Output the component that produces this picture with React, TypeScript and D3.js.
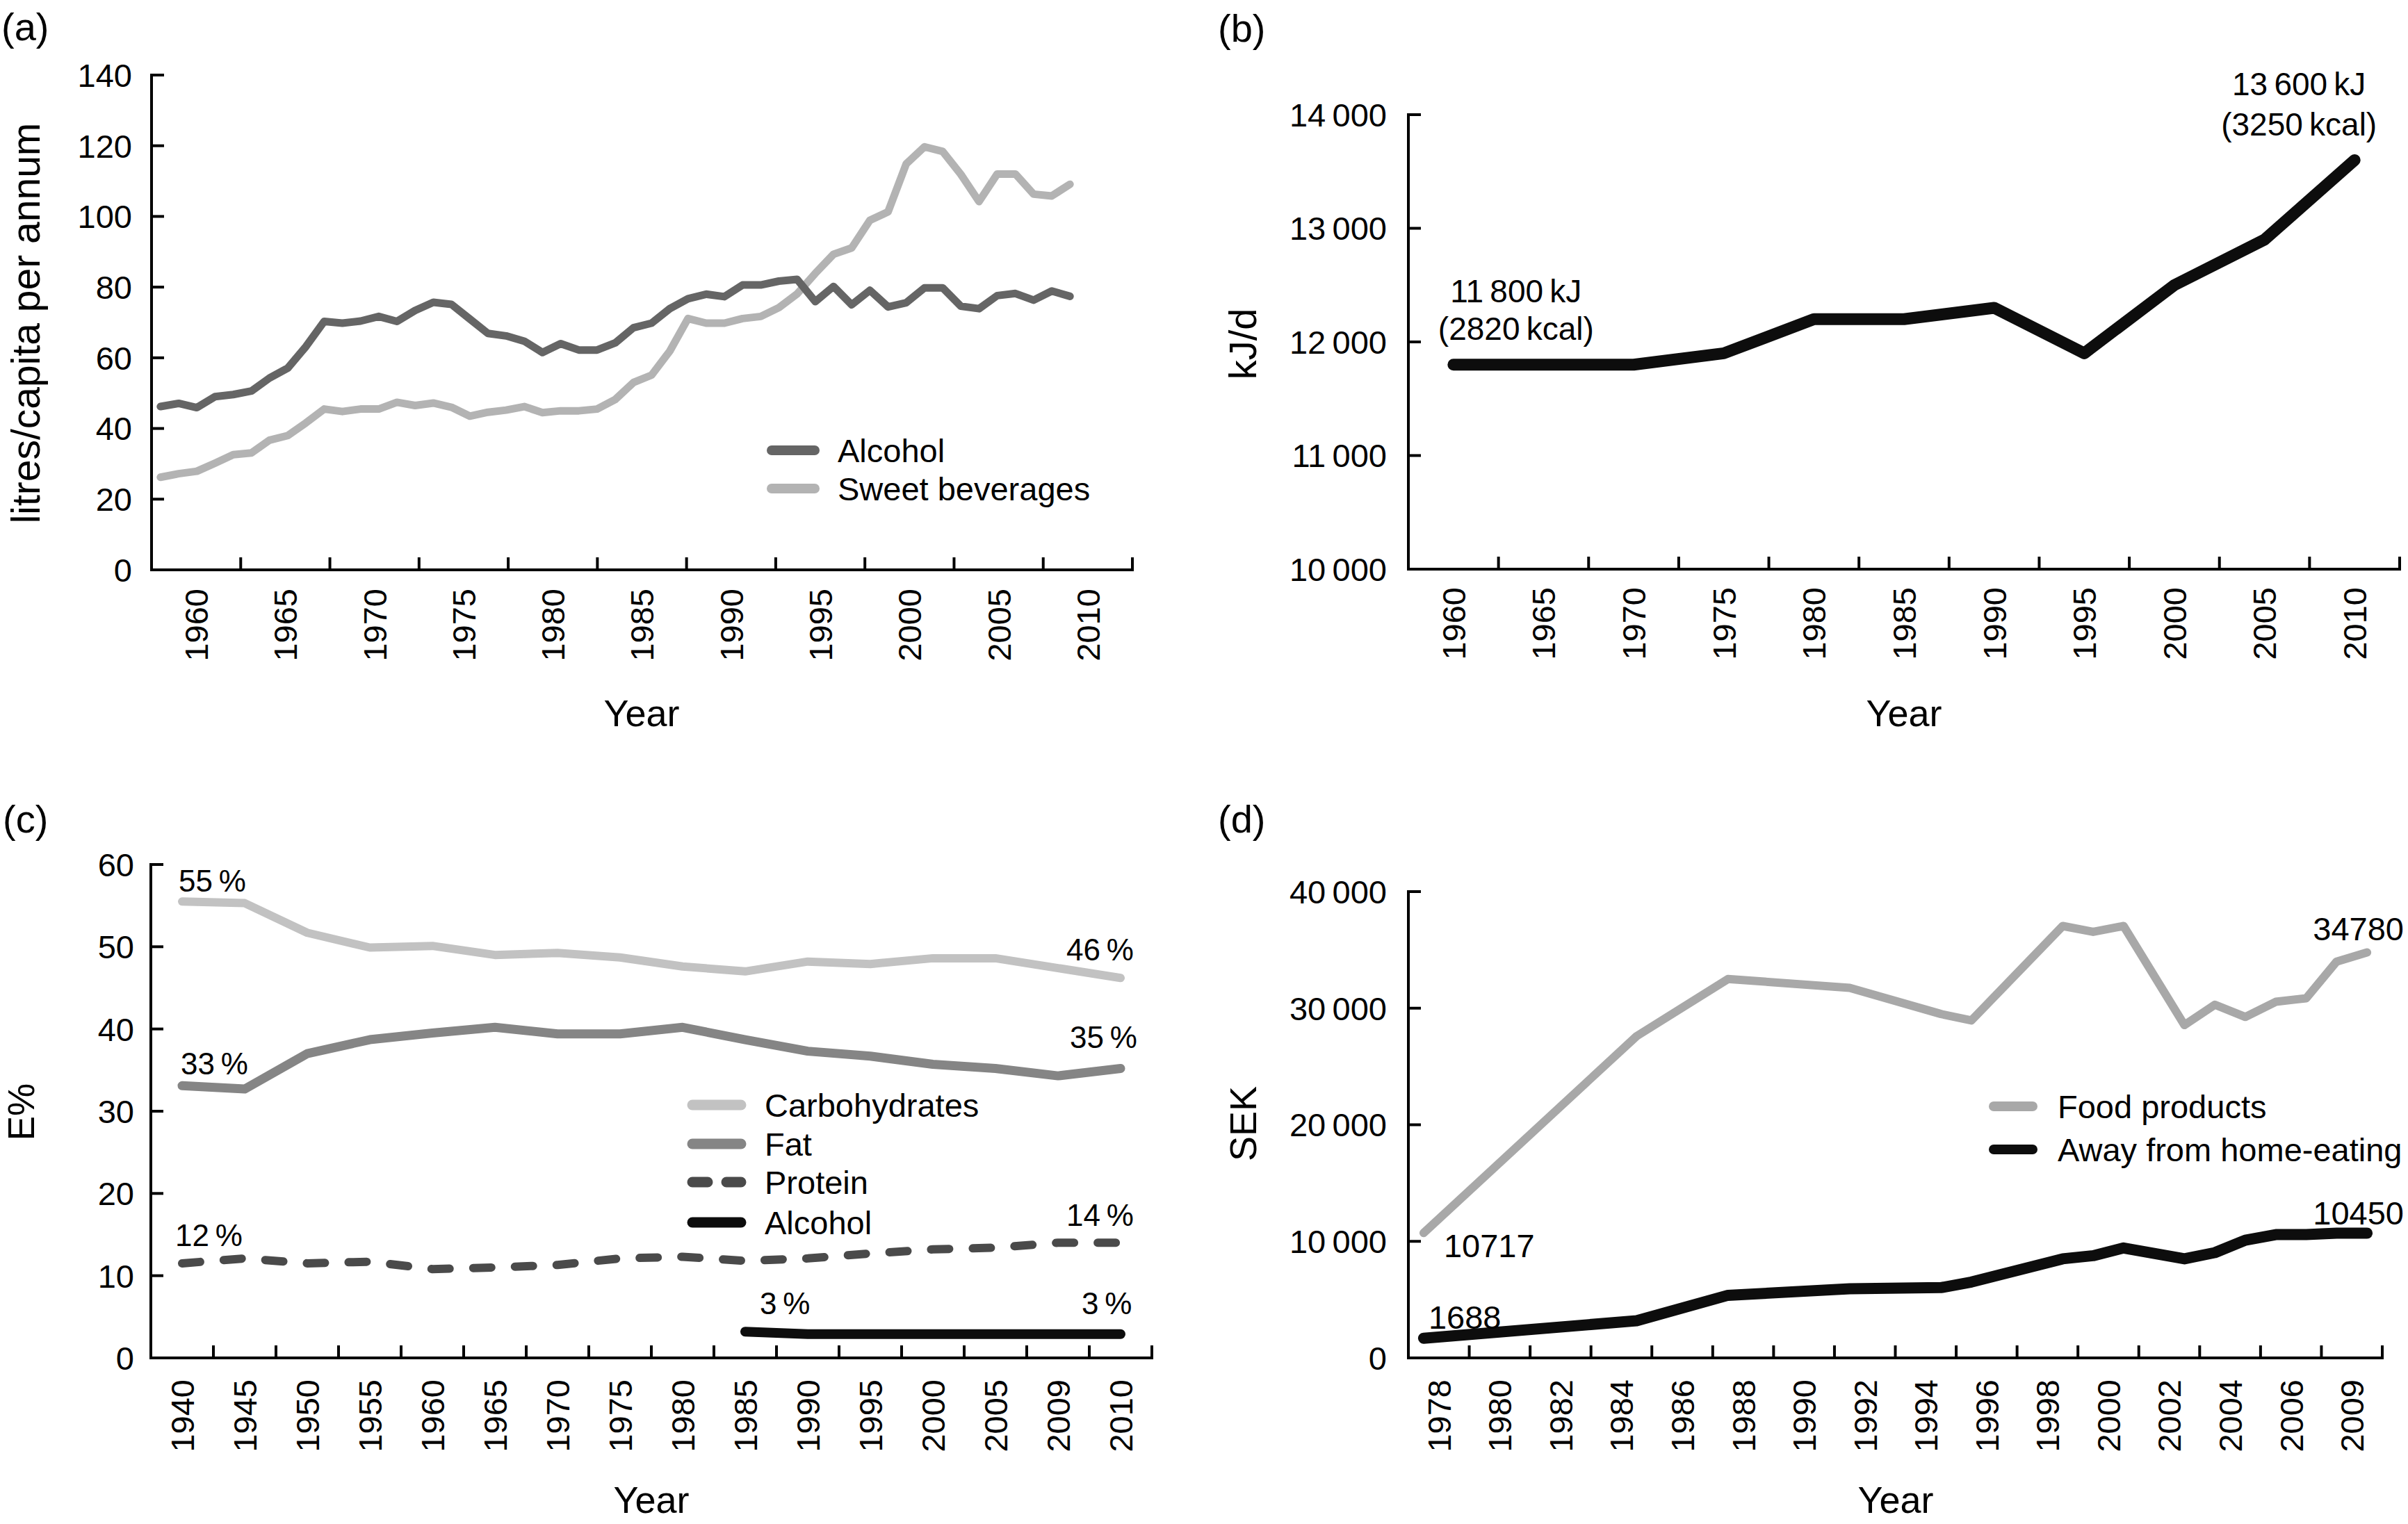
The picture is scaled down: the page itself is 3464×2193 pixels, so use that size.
import React from 'react';
import * as d3 from 'd3';

const FONT = "'Liberation Sans', Arial, Helvetica, sans-serif";

// ---------- Panel (a) ----------
const aTickLabels = ['1960', '1965', '1970', '1975', '1980', '1985', '1990', '1995', '2000', '2005', '2010'];
const aYTicks = [0, 20, 40, 60, 80, 100, 120, 140];
const aYears = [1958, 1959, 1960, 1961, 1962, 1963, 1964, 1965, 1966, 1967, 1968, 1969, 1970, 1971, 1972, 1973, 1974,
  1975, 1976, 1977, 1978, 1979, 1980, 1981, 1982, 1983, 1984, 1985, 1986, 1987, 1988, 1989, 1990, 1991, 1992, 1993,
  1994, 1995, 1996, 1997, 1998, 1999, 2000, 2001, 2002, 2003, 2004, 2005, 2006, 2007, 2008];
const aAlcohol = [46.2, 47.1, 45.9, 49.0, 49.6, 50.6, 54.3, 57.1, 63.2, 70.3, 69.8, 70.4, 71.7, 70.3, 73.4, 75.7, 75.1,
  71.0, 66.9, 66.2, 64.7, 61.5, 64.0, 62.2, 62.2, 64.2, 68.5, 69.8, 73.9, 76.7, 78.0, 77.3, 80.6, 80.6, 81.7, 82.2,
  75.9, 80.2, 75.0, 79.1, 74.4, 75.6, 79.8, 79.8, 74.6, 73.9, 77.6, 78.2, 76.3, 78.9, 77.4];
const aSweet = [26.2, 27.2, 27.9, 30.2, 32.6, 33.1, 36.7, 38.0, 41.6, 45.5, 44.8, 45.5, 45.5, 47.4, 46.5, 47.2, 46.0,
  43.5, 44.6, 45.2, 46.2, 44.5, 45.0, 45.0, 45.5, 48.2, 53.0, 55.1, 61.9, 71.1, 69.8, 69.8, 71.1, 71.7, 74.2, 78.1,
  83.9, 89.3, 91.1, 98.9, 101.3, 114.9, 119.7, 118.4, 111.9, 104.2, 112.0, 112.0, 106.3, 105.8, 109.1];

// ---------- Panel (b) ----------
const bYears = ['1960', '1965', '1970', '1975', '1980', '1985', '1990', '1995', '2000', '2005', '2010'];
const bEnergy = [11800, 11800, 11800, 11900, 12200, 12200, 12300, 11900, 12500, 12900, 13600];
const bYTicks = [10000, 11000, 12000, 13000, 14000];

// ---------- Panel (c) ----------
const cCats = ['1940', '1945', '1950', '1955', '1960', '1965', '1970', '1975', '1980', '1985', '1990', '1995', '2000', '2005', '2009', '2010'];
const cCarbs = [55.5, 55.3, 51.7, 49.9, 50.1, 49.0, 49.25, 48.7, 47.6, 47.0, 48.2, 47.9, 48.6, 48.6, 47.4, 46.2];
const cFat = [33.1, 32.7, 37.0, 38.7, 39.5, 40.2, 39.4, 39.4, 40.2, 38.7, 37.3, 36.7, 35.7, 35.2, 34.3, 35.2];
const cProtein = [11.5, 12.1, 11.5, 11.7, 10.8, 11.0, 11.3, 12.1, 12.3, 11.8, 12.1, 12.7, 13.2, 13.4, 14.0, 14.0];
const cAlcCats = ['1985', '1990', '1995', '2000', '2005', '2009', '2010'];
const cAlcohol = [3.2, 2.9, 2.9, 2.9, 2.9, 2.9, 2.9];
const cYTicks = [0, 10, 20, 30, 40, 50, 60];

// ---------- Panel (d) ----------
const dTickLabels = ['1978', '1980', '1982', '1984', '1986', '1988', '1990', '1992', '1994', '1996', '1998', '2000', '2002', '2004', '2006', '2009'];
const dYears = [1978, 1985, 1988, 1992, 1995, 1996, 1999, 2000, 2001, 2003, 2004, 2005, 2006, 2007, 2008, 2009];
const dFood = [10717, 27600, 32500, 31750, 29500, 28950, 37050, 36550, 37050, 28550, 30300, 29250, 30550, 30850, 34000, 34780];
const dAway = [1688, 3190, 5370, 5930, 6030, 6510, 8500, 8770, 9430, 8500, 9030, 10100, 10580, 10580, 10700, 10700];
const dYTicks = [0, 10000, 20000, 30000, 40000];

const thin = '\u2009';
const fmtThousands = (v: number) => (v >= 10000 ? `${Math.floor(v / 1000)}${thin}${String(v % 1000).padStart(3, '0')}` : String(v));

const AX = { stroke: '#000', strokeWidth: 4, strokeLinecap: 'square' as const };

function YAxis({ x, scale, ticks, fmt, gap = 27, fontSize = 47 }: any) {
  return (
    <g>
      <line x1={x} x2={x} y1={scale(ticks[0])} y2={scale(ticks[ticks.length - 1])} {...AX} />
      {ticks.map((t: number) => (
        <g key={t}>
          <line x1={x} x2={x + 18} y1={scale(t)} y2={scale(t)} {...AX} strokeLinecap="butt" />
          <text x={x - gap} y={scale(t)} dy="0.36em" textAnchor="end" fontSize={fontSize}>{fmt(t)}</text>
        </g>
      ))}
    </g>
  );
}

function XAxis({ y, band, labelTop, fontSize = 47 }: any) {
  const [r0, r1] = band.range();
  const bw = band.bandwidth();
  return (
    <g>
      <line x1={r0} x2={r1} y1={y} y2={y} {...AX} />
      {band.domain().map((d: string) => {
        const bx = band(d);
        return (
          <g key={d}>
            <line x1={bx + bw} x2={bx + bw} y1={y} y2={y - 18} {...AX} strokeLinecap="butt" />
            <text transform={`translate(${bx + bw / 2},${labelTop}) rotate(-90)`} textAnchor="end" dy="0.36em" fontSize={fontSize}>{d}</text>
          </g>
        );
      })}
    </g>
  );
}

function Path({ d, color, width, dash }: any) {
  return <path d={d} fill="none" stroke={color} strokeWidth={width} strokeLinejoin="round" strokeLinecap="round" strokeDasharray={dash} />;
}

function LegendRow({ x1, x2, tx, y, color, width, dash, label }: any) {
  return (
    <g>
      <line x1={x1} x2={x2} y1={y} y2={y} stroke={color} strokeWidth={width} strokeLinecap="round" strokeDasharray={dash} />
      <text x={tx} y={y} dy="0.36em" fontSize={47}>{label}</text>
    </g>
  );
}

export default function App() {
  // Panel a
  const aBand = d3.scaleBand().domain(aTickLabels).range([218, 1629]).paddingInner(0).paddingOuter(0);
  const aAxisYear = d3.scaleLinear().domain([1957.5, 2012.5]).range([218, 1629]);
  const aX = d3.scaleLinear().domain([aYears[0], aYears[aYears.length - 1]]).range([aAxisYear(1958), aAxisYear(2009)]);
  const aY = d3.scaleLinear().domain([0, 140]).range([820, 108]);
  const aLine = d3.line<number>().x((_, i) => aX(aYears[i])).y((v) => aY(v));

  // Panel b
  const bBand = d3.scaleBand().domain(bYears).range([2026, 3452]);
  const bY = d3.scaleLinear().domain([10000, 14000]).range([819, 165]);
  const bCx = (c: string) => (bBand(c) as number) + bBand.bandwidth() / 2;
  const bLine = d3.line<number>().x((_, i) => bCx(bYears[i])).y((v) => bY(v));

  // Panel c
  const cBand = d3.scaleBand().domain(cCats).range([217, 1657]);
  const cY = d3.scaleLinear().domain([0, 60]).range([1954, 1244]);
  const cCx = (c: string) => (cBand(c) as number) + cBand.bandwidth() / 2;
  const cLine = d3.line<number>().x((_, i) => cCx(cCats[i])).y((v) => cY(v));
  const cAlcLine = d3.line<number>().x((_, i) => cCx(cAlcCats[i])).y((v) => cY(v));

  // Panel d
  const dBand = d3.scaleBand().domain(dTickLabels).range([2026, 3427]);
  const dX = d3.scaleLinear().domain([1977.5, 2009.5]).range([2026, 3427]);
  const dY = d3.scaleLinear().domain([0, 40000]).range([1954, 1283]);
  const dLine = d3.line<number>().x((_, i) => dX(dYears[i])).y((v) => dY(v));

  const last = (arr: number[]) => arr[arr.length - 1];

  return (
    <svg width={3464} height={2193} viewBox="0 0 3464 2193"
      style={{ position: 'absolute', left: 0, top: 0, background: '#fff' }}
      fontFamily={FONT} fill="#000">
      <rect x={0} y={0} width={3464} height={2193} fill="#fff" />

      {/* ---------------- (a) ---------------- */}
      <text x={2} y={58} fontSize={56}>(a)</text>
      <text transform="translate(57,465) rotate(-90)" textAnchor="middle" fontSize={57}>litres/capita per annum</text>
      <Path d={aLine(aSweet)} color="#b3b3b3" width={11} />
      <Path d={aLine(aAlcohol)} color="#656565" width={11} />
      <YAxis x={218} scale={aY} ticks={aYTicks} fmt={(v: number) => String(v)} gap={28} />
      <XAxis y={820} band={aBand} labelTop={847} />
      <text x={923} y={1045} textAnchor="middle" fontSize={54}>Year</text>
      <LegendRow x1={1110} x2={1172} tx={1205} y={648} color="#656565" width={14} label="Alcohol" />
      <LegendRow x1={1110} x2={1172} tx={1205} y={703} color="#b3b3b3" width={14} label="Sweet beverages" />

      {/* ---------------- (b) ---------------- */}
      <text x={1752} y={60} fontSize={56}>(b)</text>
      <text transform="translate(1807,495) rotate(-90)" textAnchor="middle" fontSize={56}>kJ/d</text>
      <Path d={bLine(bEnergy)} color="#0d0d0d" width={17} />
      <YAxis x={2026} scale={bY} ticks={bYTicks} fmt={fmtThousands} gap={31} />
      <XAxis y={819} band={bBand} labelTop={845} />
      <text x={2739} y={1045} textAnchor="middle" fontSize={54}>Year</text>
      <text x={bCx(bYears[0]) + 90} y={bY(bEnergy[0]) - 90} textAnchor="middle" fontSize={46}>{`11${thin}800${thin}kJ`}</text>
      <text x={bCx(bYears[0]) + 90} y={bY(bEnergy[0]) - 36} textAnchor="middle" fontSize={46}>{`(2820${thin}kcal)`}</text>
      <text x={bCx(bYears[10]) - 80} y={bY(last(bEnergy)) - 93} textAnchor="middle" fontSize={46}>{`13${thin}600${thin}kJ`}</text>
      <text x={bCx(bYears[10]) - 80} y={bY(last(bEnergy)) - 35} textAnchor="middle" fontSize={46}>{`(3250${thin}kcal)`}</text>

      {/* ---------------- (c) ---------------- */}
      <text x={4} y={1198} fontSize={56}>(c)</text>
      <text transform="translate(49,1600) rotate(-90)" textAnchor="middle" fontSize={53}>E%</text>
      <Path d={cLine(cCarbs)} color="#c2c2c2" width={12} />
      <Path d={cLine(cFat)} color="#858585" width={13} />
      <Path d={cLine(cProtein)} color="#4a4a4a" width={12} dash="26 34" />
      <Path d={cAlcLine(cAlcohol)} color="#0d0d0d" width={14} />
      <YAxis x={217} scale={cY} ticks={cYTicks} fmt={(v: number) => String(v)} gap={24} />
      <XAxis y={1954} band={cBand} labelTop={1985} />
      <text x={937} y={2177} textAnchor="middle" fontSize={54}>Year</text>
      <g fontSize={44}>
        <text x={cCx('1940') - 5} y={cY(cCarbs[0]) - 14}>{`55${thin}%`}</text>
        <text x={cCx('1940') - 2} y={cY(cFat[0]) - 16}>{`33${thin}%`}</text>
        <text x={cCx('1940') - 10} y={cY(cProtein[0]) - 25}>{`12${thin}%`}</text>
        <text x={cCx('2010') - 78} y={cY(last(cCarbs)) - 25}>{`46${thin}%`}</text>
        <text x={cCx('2010') - 73} y={cY(last(cFat)) - 29}>{`35${thin}%`}</text>
        <text x={cCx('2010') - 78} y={cY(last(cProtein)) - 24}>{`14${thin}%`}</text>
        <text x={cCx('1985') + 21} y={cY(cAlcohol[0]) - 25}>{`3${thin}%`}</text>
        <text x={cCx('2010') - 56} y={cY(last(cAlcohol)) - 29}>{`3${thin}%`}</text>
      </g>
      <LegendRow x1={996} x2={1066} tx={1100} y={1590} color="#c2c2c2" width={15} label="Carbohydrates" />
      <LegendRow x1={996} x2={1066} tx={1100} y={1646} color="#858585" width={15} label="Fat" />
      <LegendRow x1={996} x2={1066} tx={1100} y={1701} color="#4a4a4a" width={15} dash="22 27" label="Protein" />
      <LegendRow x1={996} x2={1066} tx={1100} y={1759} color="#0d0d0d" width={15} label="Alcohol" />

      {/* ---------------- (d) ---------------- */}
      <text x={1752} y={1198} fontSize={56}>(d)</text>
      <text transform="translate(1807,1617) rotate(-90)" textAnchor="middle" fontSize={54}>SEK</text>
      <Path d={dLine(dFood)} color="#a8a8a8" width={12} />
      <Path d={dLine(dAway)} color="#0d0d0d" width={16} />
      <YAxis x={2026} scale={dY} ticks={dYTicks} fmt={fmtThousands} gap={31} />
      <XAxis y={1954} band={dBand} labelTop={1985} />
      <text x={2727} y={2177} textAnchor="middle" fontSize={54}>Year</text>
      <g fontSize={47}>
        <text x={dX(dYears[0]) + 29} y={dY(dFood[0]) + 35}>{String(dFood[0])}</text>
        <text x={dX(dYears[0]) + 7} y={dY(dAway[0]) - 14}>{String(dAway[0])}</text>
        <text x={3458} y={dY(last(dFood)) - 18} textAnchor="end">{String(last(dFood))}</text>
        <text x={3458} y={1762} textAnchor="end">10450</text>
      </g>
      <LegendRow x1={2868} x2={2924} tx={2960} y={1592} color="#a8a8a8" width={14} label="Food products" />
      <LegendRow x1={2868} x2={2924} tx={2960} y={1654} color="#0d0d0d" width={14} label="Away from home-eating" />
    </svg>
  );
}
